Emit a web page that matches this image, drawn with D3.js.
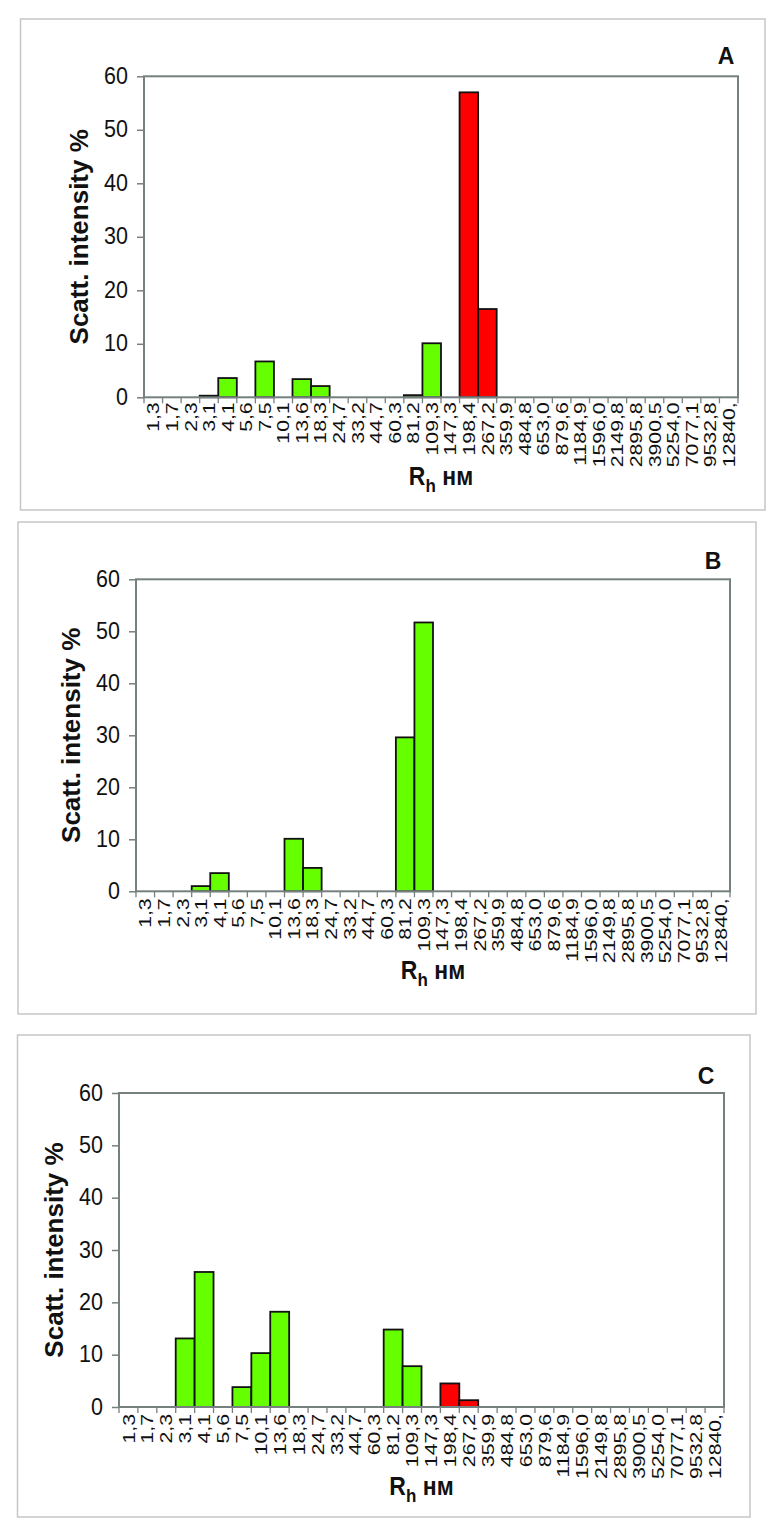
<!DOCTYPE html>
<html><head><meta charset="utf-8">
<script src="https://cdn.jsdelivr.net/npm/d3@7"></script>
<style>
html,body{margin:0;padding:0;background:#fff;}
svg{display:block;}
</style></head>
<body>
<script>
// ---- data ----
const categories = ["1,3","1,7","2,3","3,1","4,1","5,6","7,5","10,1","13,6","18,3","24,7","33,2","44,7","60,3","81,2","109,3","147,3","198,4","267,2","359,9","484,8","653,0","879,6","1184,9","1596,0","2149,8","2895,8","3900,5","5254,0","7077,1","9532,8","12840,"];
const valuesA = [0,0,0,0.3,3.6,0,6.7,0,3.4,2.1,0,0,0,0,0.4,10.1,0,57.0,16.5,0,0,0,0,0,0,0,0,0,0,0,0,0];
const valuesB = [0,0,0,1.0,3.5,0,0,0,10.1,4.5,0,0,0,0,29.6,51.7,0,0,0,0,0,0,0,0,0,0,0,0,0,0,0,0];
const valuesC = [0,0,0,13.1,25.8,0,3.8,10.3,18.2,0,0,0,0,0,14.8,7.8,0,4.5,1.3,0,0,0,0,0,0,0,0,0,0,0,0,0];
const redCategories = ["198,4","267,2"];
const yTicks = [0,10,20,30,40,50,60];
const panelLabels = ["A","B","C"];
const yTitle = "Scatt. intensity %";

// ---- layout ----
const W = 771, H = 1526;
const svg = d3.select("body").append("svg").attr("width", W).attr("height", H);
const FONT = "'Liberation Sans', Arial, sans-serif";

const panels = [
  {label: panelLabels[0], values: valuesA, box: [20.5, 19, 765, 510], plot: {l: 144, t: 76.3, r: 738, b: 397.3}, letter: [726, 64], xGap: 5},
  {label: panelLabels[1], values: valuesB, box: [18, 522, 756, 1014], plot: {l: 136, t: 579.3, r: 730, b: 891.3}, letter: [713, 569], xGap: 7},
  {label: panelLabels[2], values: valuesC, box: [17.5, 1035, 750, 1517], plot: {l: 119, t: 1093, r: 724, b: 1407}, letter: [706, 1084], xGap: 7}
];

panels.forEach(p => {
  const g = svg.append("g");
  // outer panel frame
  g.append("rect")
    .attr("x", p.box[0]).attr("y", p.box[1])
    .attr("width", p.box[2] - p.box[0]).attr("height", p.box[3] - p.box[1])
    .attr("fill", "none").attr("stroke", "#c6c6c6").attr("stroke-width", 1.5);

  const x = d3.scaleBand().domain(categories).range([p.plot.l, p.plot.r]).paddingInner(0).paddingOuter(0);
  const y = d3.scaleLinear().domain([0, 60]).range([p.plot.b, p.plot.t]);

  // bars
  const data = categories.map((c, i) => ({c, v: p.values[i]})).filter(d => d.v > 0);
  g.selectAll("rect.bar").data(data).enter().append("rect")
    .attr("class", "bar")
    .attr("x", d => x(d.c))
    .attr("y", d => y(d.v))
    .attr("width", x.bandwidth())
    .attr("height", d => y(0) - y(d.v))
    .attr("fill", d => redCategories.includes(d.c) ? "#ff0000" : "#66ff00")
    .attr("stroke", "#111").attr("stroke-width", 1.8);

  // plot frame
  g.append("rect")
    .attr("x", p.plot.l).attr("y", p.plot.t)
    .attr("width", p.plot.r - p.plot.l).attr("height", p.plot.b - p.plot.t)
    .attr("fill", "none").attr("stroke", "#76817f").attr("stroke-width", 2);

  // y axis
  const yAxis = d3.axisLeft(y).tickValues(yTicks).tickSize(7).tickPadding(9).tickFormat(d3.format("d"));
  const ya = g.append("g").attr("transform", `translate(${p.plot.l},0)`).call(yAxis);
  ya.select(".domain").remove();
  ya.selectAll(".tick line").attr("stroke", "#76817f").attr("stroke-width", 1.5);
  ya.selectAll(".tick text").attr("font-family", FONT).attr("font-size", 21.5).attr("fill", "#111")
    .attr("transform", "scale(1,1.1)").attr("dy", "0.3em");

  // x axis: ticks at category boundaries
  const xa = g.append("g").attr("transform", `translate(0,${p.plot.b})`);
  const bounds = categories.map(c => x(c)).concat([p.plot.r]);
  xa.selectAll("line").data(bounds).enter().append("line")
    .attr("x1", d => d).attr("x2", d => d).attr("y1", 0).attr("y2", 6)
    .attr("stroke", "#76817f").attr("stroke-width", 1.3);
  xa.selectAll("text").data(categories).enter().append("text")
    .attr("transform", d => `translate(${x(d) + x.bandwidth() / 2},${p.xGap}) scale(1,1.25) rotate(-90)`)
    .attr("dy", "0.36em")
    .attr("text-anchor", "end")
    .attr("font-family", FONT).attr("font-size", 17).attr("fill", "#111")
    .text(d => d);

  // y title
  const cy = (p.plot.t + p.plot.b) / 2;
  g.append("text")
    .attr("transform", `translate(${p.plot.l - 56},${cy}) rotate(-90)`)
    .attr("text-anchor", "middle")
    .attr("font-family", FONT).attr("font-weight", "bold").attr("font-size", 26).attr("fill", "#111")
    .text(yTitle);

  // x title
  const xt = g.append("text")
    .attr("transform", `translate(${(p.plot.l + p.plot.r) / 2},${p.plot.b + 88}) scale(1,1.12)`)
    .attr("text-anchor", "middle")
    .attr("font-family", FONT).attr("font-weight", "bold").attr("font-size", 23).attr("fill", "#111");
  xt.append("tspan").text("R");
  xt.append("tspan").attr("font-size", 17).attr("dy", 6).text("h");
  xt.append("tspan").attr("dy", -6).text(" нм");

  // panel letter
  g.append("text")
    .attr("x", p.letter[0]).attr("y", p.letter[1])
    .attr("text-anchor", "middle")
    .attr("font-family", FONT).attr("font-weight", "bold").attr("font-size", 23).attr("fill", "#111")
    .text(p.label);
});
</script>
</body></html>
